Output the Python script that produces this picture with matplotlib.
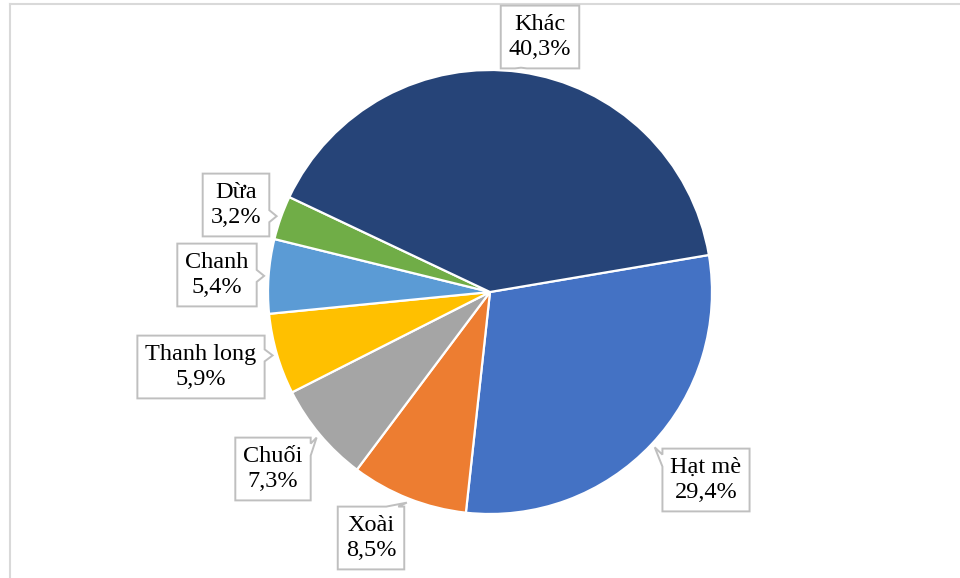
import numpy as np
import matplotlib
matplotlib.use("Agg")
import matplotlib.pyplot as plt
from matplotlib.patches import Polygon

# share of each product, clockwise from "Hạt mè"
labels = ["Hạt mè", "Xoài", "Chuối", "Thanh long", "Chanh", "Dừa", "Khác"]
shares = [29.4, 8.5, 7.3, 5.9, 5.4, 3.2, 40.3]
colors = ["#4472C4", "#ED7D31", "#A5A5A5", "#FFC000", "#5B9BD5", "#70AD47", "#264478"]

# label box centres in pixels (x right, y down)
label_pos = [(706, 480), (371, 538), (273, 469), (201, 367), (217, 275), (236, 205), (540, 37)]

W, H = 960, 578
cx, cy, R = 490, 292, 222
start = 9.6

fig = plt.figure(figsize=(W / 100, H / 100), dpi=100)
ax = fig.add_axes([0, 0, 1, 1])

wedges, _ = ax.pie(shares, colors=colors, startangle=start, counterclock=False,
                   center=(cx, H - cy), radius=R, frame=True,
                   wedgeprops=dict(edgecolor="white", linewidth=1.6))
ax.set_xlim(0, W)
ax.set_ylim(0, H)
ax.set_aspect("equal")
ax.axis("off")

# outer chart border (top and left visible)
ax.plot([10, W], [H - 4, H - 4], color="#D9D9D9", lw=1.5, clip_on=False)
ax.plot([10, 10], [H - 4, 0], color="#D9D9D9", lw=1.5, clip_on=False)

font = dict(family=["Liberation Serif", "DejaVu Serif"], size=17.5)
texts = []
for name, val, (lx, ly) in zip(labels, shares, label_pos):
    s = f"{name}\n{val:.1f}%".replace(".", ",")
    t = ax.text(lx, H - ly, s, ha="center", va="center", multialignment="center",
                linespacing=1.3, zorder=5, **font)
    texts.append(t)

fig.canvas.draw()
renderer = fig.canvas.get_renderer()


def callout(bb, tip, padx=8, pady=8, gap=12):
    x0, x1 = bb.x0 - padx, bb.x1 + padx
    y0, y1 = bb.y0 - pady, bb.y1 + pady
    tx, ty = tip
    # how far the tip lies outside each side
    out = {"left": x0 - tx, "right": tx - x1, "bottom": y0 - ty, "top": ty - y1}
    side = max(out, key=out.get)
    if side in ("top", "bottom"):
        px = min(max(tx, x0 + gap), x1 - gap)
        yy = y1 if side == "top" else y0
        base = [(px - gap / 2, yy), (tx, ty), (px + gap / 2, yy)]
    else:
        py = min(max(ty, y0 + gap), y1 - gap)
        xx = x0 if side == "left" else x1
        base = [(xx, py - gap / 2), (tx, ty), (xx, py + gap / 2)]
    # walk the rectangle counter-clockwise, inserting the pointer
    if side == "bottom":
        pts = [(x0, y0), base[0], base[1], base[2], (x1, y0), (x1, y1), (x0, y1)]
    elif side == "right":
        pts = [(x0, y0), (x1, y0), base[0], base[1], base[2], (x1, y1), (x0, y1)]
    elif side == "top":
        pts = [(x0, y0), (x1, y0), (x1, y1), base[2], base[1], base[0], (x0, y1)]
    else:
        pts = [(x0, y0), (x1, y0), (x1, y1), (x0, y1), base[2], base[1], base[0]]
    ax.add_patch(Polygon(pts, closed=True, facecolor="white", edgecolor="#BFBFBF",
                         lw=1.4, zorder=4, clip_on=False))


for w, t in zip(wedges, texts):
    mid = np.deg2rad((w.theta1 + w.theta2) / 2)
    tip = (cx + R * 1.02 * np.cos(mid), H - cy + R * 1.02 * np.sin(mid))
    callout(t.get_window_extent(renderer), tip)

fig.savefig("out.png", dpi=100)
